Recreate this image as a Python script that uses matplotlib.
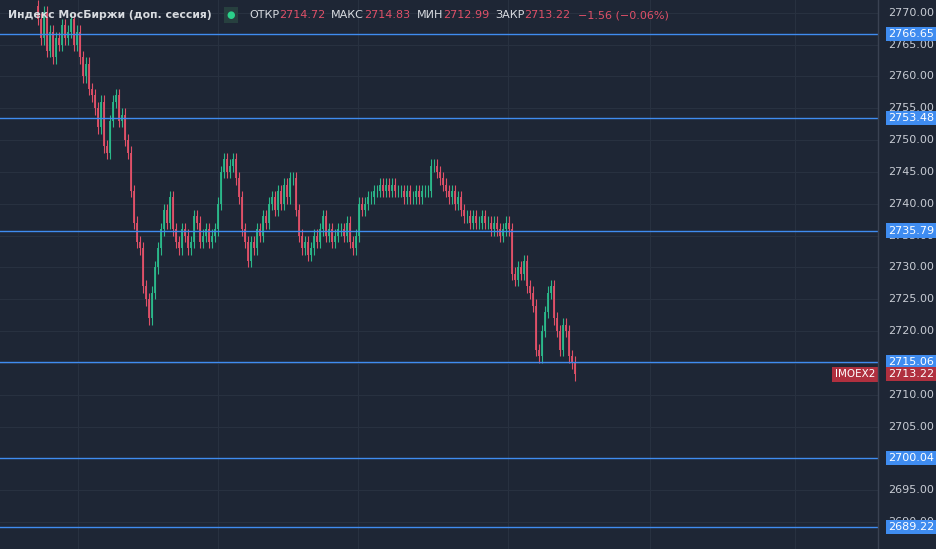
import numpy as np
import matplotlib.pyplot as plt
from matplotlib.patches import Rectangle

closes = [2769, 2766, 2770, 2764, 2767, 2763, 2766, 2765, 2768, 2766,
          2767, 2769, 2765, 2767, 2763, 2760, 2762, 2758, 2757, 2755,
          2752, 2756, 2749, 2748, 2753, 2756, 2757, 2753, 2754, 2750,
          2748, 2742, 2737, 2734, 2733, 2727, 2725, 2722, 2726, 2730,
          2733, 2736, 2739, 2737, 2741, 2736, 2734, 2733, 2736, 2735,
          2733, 2734, 2738, 2737, 2734, 2735, 2736, 2734, 2735, 2736,
          2740, 2745, 2747, 2745, 2746, 2747, 2744, 2741, 2736, 2734,
          2731, 2734, 2733, 2736, 2735, 2738, 2737, 2740, 2741, 2739,
          2742, 2740, 2743, 2741, 2744, 2744, 2739, 2735, 2733, 2734,
          2732, 2733, 2735, 2734, 2736, 2738, 2735, 2736, 2734, 2735,
          2736, 2736, 2735, 2737, 2734, 2733, 2735, 2740, 2739, 2740,
          2741, 2741, 2742, 2742, 2743, 2742, 2743, 2742, 2743, 2742,
          2742, 2742, 2741, 2742, 2741, 2741, 2742, 2741, 2742, 2742,
          2742, 2746, 2746, 2745, 2744, 2743, 2742, 2741, 2742, 2740,
          2741, 2739, 2738, 2738, 2737, 2738, 2737, 2737, 2738, 2737,
          2737, 2736, 2737, 2736, 2735, 2736, 2737, 2736, 2729, 2728,
          2730, 2729, 2731, 2727, 2726, 2724, 2717, 2716, 2720, 2723,
          2726, 2727, 2722, 2720, 2717, 2721, 2720, 2716, 2715, 2713.22]
first_open = 2771
levels = [2766.65, 2753.48, 2735.79, 2715.06, 2700.04, 2689.22]
ticks = list(range(2690, 2771, 5))
last_price = 2713.22
header = [('ОТКР', '2714.72'), ('МАКС', '2714.83'), ('МИН', '2712.99'), ('ЗАКР', '2713.22')]
change = '−1.56 (−0.06%)'

BG = '#1e2635'
GRID = '#283140'
UP = '#2bb88a'
DOWN = '#e05068'
BLUE = '#3f8cf0'

fig = plt.figure(figsize=(9.36, 5.49), dpi=100, facecolor=BG)
ax = fig.add_axes([0, 0, 878 / 936, 1])
ax.set_facecolor(BG)
ymin, ymax = 2685.76, 2772.0
ax.set_xlim(-12.67, 280)
ax.set_ylim(ymin, ymax)
for s in ax.spines.values():
    s.set_visible(False)
ax.set_xticks([])
ax.set_yticks([])

for t in ticks:
    ax.axhline(t, color=GRID, lw=0.8, zorder=0)
for px in [78, 218, 358, 508, 650, 795]:
    ax.axvline((px - 38) / 3, color=GRID, lw=0.8, zorder=0)

opens = [first_open] + closes[:-1]
for i, (o, c) in enumerate(zip(opens, closes)):
    col = UP if c >= o else DOWN
    lo, hi = min(o, c), max(o, c)
    ax.vlines(i, lo - 1.0, hi + 1.0, color=col, lw=0.8, zorder=3)
    ax.vlines(i, lo, hi, color=col, lw=1.3, zorder=3)

for lv in levels:
    ax.axhline(lv, color=BLUE, lw=1.0, zorder=4)

# price axis
pax = fig.add_axes([878 / 936, 0, 58 / 936, 1])
pax.set_facecolor(BG)
pax.set_xlim(0, 1)
pax.set_ylim(ymin, ymax)
pax.axis('off')
fig.add_artist(plt.Line2D([878 / 936] * 2, [0, 1], color='#3a4252', lw=1))
for t in ticks:
    pax.text(0.17, t, f'{t:.2f}', color='#c8ccd4', fontsize=8, va='center', ha='left')
for lv in levels:
    pax.text(0.17, lv, f'{lv:.2f}', color='white', fontsize=8, va='center', ha='left',
             bbox=dict(boxstyle='square,pad=0.2', fc=BLUE, ec='none'), zorder=5)
pax.text(0.17, last_price, f'{last_price:.2f}', color='white', fontsize=8, va='center',
         ha='left', bbox=dict(boxstyle='square,pad=0.2', fc='#b0303f', ec='none'), zorder=5)
ax.text(0.997, last_price, 'IMOEX2', color='white', fontsize=7.5, va='center', ha='right',
        transform=ax.get_yaxis_transform(),
        bbox=dict(boxstyle='square,pad=0.25', fc='#b0303f', ec='none'), zorder=6)

# header
hy = 1 - 15 / 549
fig.text(8 / 936, hy, 'Индекс МосБиржи (доп. сессия)', color='#d8dbe0', fontsize=7.8,
         fontweight='bold', va='center')
fig.patches.append(Rectangle((224 / 936, hy - 8 / 549), 14 / 936, 16 / 549,
                             transform=fig.transFigure, fc='#27403f', ec='none'))
fig.text(231 / 936, hy, '●', color='#2bd08a', fontsize=7, va='center', ha='center')
r = fig.canvas.get_renderer()
x = 249
for lab, val in header:
    t1 = fig.text(x / 936, hy, lab, color='#d8dbe0', fontsize=8, va='center')
    x = t1.get_window_extent(r).x1
    t2 = fig.text(x / 936, hy, val, color=DOWN, fontsize=8, va='center')
    x = t2.get_window_extent(r).x1 + 6
fig.text((x + 2) / 936, hy, change, color=DOWN, fontsize=8, va='center')

fig.savefig('out.png', dpi=100, facecolor=BG)
